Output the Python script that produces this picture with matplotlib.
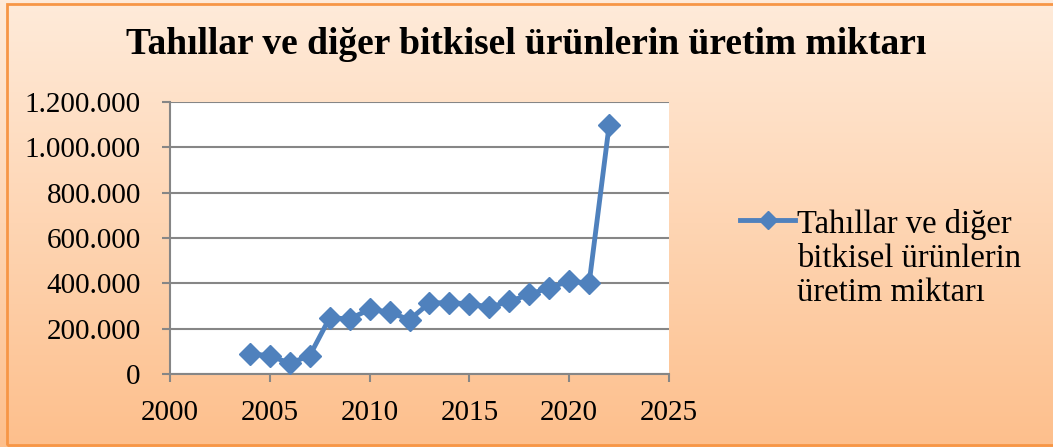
import numpy as np
import matplotlib
matplotlib.use("Agg")
import matplotlib.pyplot as plt
from matplotlib.colors import LinearSegmentedColormap
from matplotlib.patches import Rectangle

# data
years = [2004, 2005, 2006, 2007, 2008, 2009, 2010, 2011, 2012, 2013,
         2014, 2015, 2016, 2017, 2018, 2019, 2020, 2021, 2022]
amounts = [89000, 81000, 47000, 81000, 248000, 243000, 285000, 273000, 239000, 314000,
           314000, 310000, 295000, 320000, 351000, 381000, 409000, 401000, 1097000]
x_ticks = [2000, 2005, 2010, 2015, 2020, 2025]
y_ticks = [0, 200000, 400000, 600000, 800000, 1000000, 1200000]
title = "Tahıllar ve diğer bitkisel ürünlerin üretim miktarı"
series_label = "Tahıllar ve diğer\nbitkisel ürünlerin\nüretim miktarı"

plt.rcParams['font.family'] = ['Liberation Serif', 'DejaVu Serif']

fig = plt.figure(figsize=(10.53, 4.47), dpi=100)

# gradient background (light peach on top -> orange at bottom)
bg = fig.add_axes([0, 0, 1, 1], zorder=-2)
cmap = LinearSegmentedColormap.from_list("peach", ["#FFEBDA", "#FDBF8C"])
grad = np.linspace(0, 1, 256).reshape(-1, 1)
bg.imshow(grad, cmap=cmap, aspect='auto', extent=[0, 1, 0, 1], origin='upper')
bg.add_patch(Rectangle((7 / 1053, 2 / 447), 1.1, 441 / 447, fill=False,
                       edgecolor="#F79646", linewidth=2, transform=bg.transAxes))
bg.set_xlim(0, 1)
bg.set_ylim(0, 1)
bg.axis('off')

ax = fig.add_axes([170 / 1053, 1 - 374 / 447, (669 - 170) / 1053, (374 - 102) / 447])
ax.set_facecolor("white")
ax.plot(years, amounts, color="#4F81BD", linewidth=3.5, marker='D', markersize=11.5,
        label=series_label, zorder=3)

ax.set_xlim(2000, 2025)
ax.set_ylim(0, 1200000)
ax.set_xticks(x_ticks)
ax.set_yticks(y_ticks)
ax.set_yticklabels([f"{v:,}".replace(",", ".") for v in y_ticks])
ax.grid(axis='y', color="#868686", linewidth=1.5)
ax.set_axisbelow(True)

for side in ['top', 'right']:
    ax.spines[side].set_visible(False)
for side in ['left', 'bottom']:
    ax.spines[side].set_color("#868686")
    ax.spines[side].set_linewidth(1.5)
ax.tick_params(axis='both', colors="#868686", labelcolor="black", labelsize=21,
               length=6, width=1.5, direction='out')
ax.tick_params(axis='x', pad=13)
ax.tick_params(axis='y', pad=15)

fig.text(0.5, 1 - 44 / 447, title, ha='center', va='center', fontsize=27,
         fontweight='bold')

leg = ax.legend(loc='center left', bbox_to_anchor=(1.142, 0.425), frameon=False,
                fontsize=23.5, handlelength=1.7, handletextpad=0.05,
                borderpad=0, borderaxespad=0, markerscale=0.8)
for t in leg.get_texts():
    t.set_linespacing(1.15)
# put the handle next to the first text line
for col in leg._legend_handle_box.get_children():
    for item in col.get_children():
        item.align = 'top'

fig.savefig("out.png", dpi=100)
